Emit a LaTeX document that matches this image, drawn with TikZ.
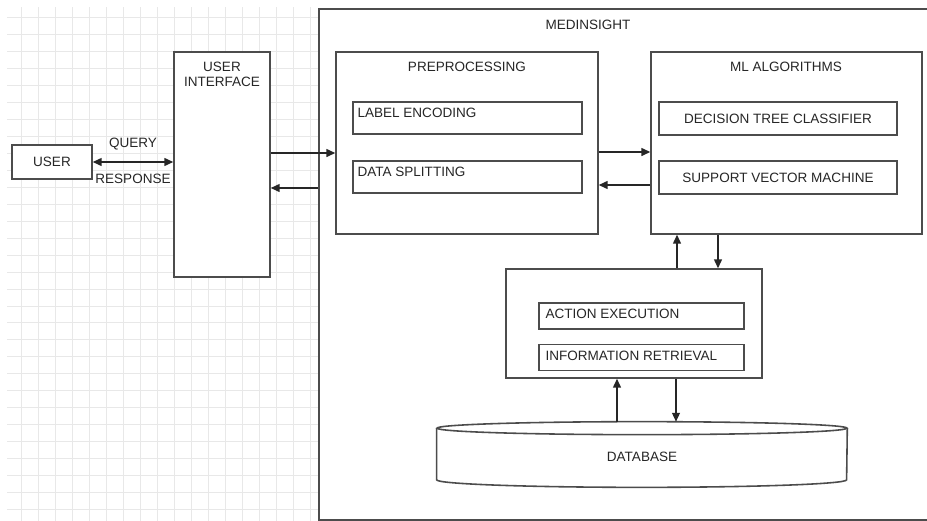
\documentclass[tikz,border=0pt]{standalone}
\usepackage{fontspec}
\setmainfont{Liberation Sans}
\usetikzlibrary{calc, arrows.meta}

\begin{document}
\begin{tikzpicture}[x=0.02cm, y=-0.02cm,
    >={Triangle[length=5pt,width=4.5pt]},
    box/.style={draw=black!70, fill=white, line width=0.9pt, inner sep=0pt},
    arr/.style={line width=0.7pt, black!85},
    txt/.style={font=\fontsize{7.7}{8.2}\selectfont, text=black!85},
    gridline/.style={black!9, line width=0.5pt}]
    \clip (0,0) rectangle (927,521);
    \draw[gridline, xshift=0.09cm, step=0.34cm] (2.5,7) grid (313.5,521);

    \node[box, minimum width=12.32cm, minimum height=10.22cm] (medinsight) at (627,264.5) {};
    \node[txt] (medtitle) at (588,25) {MEDINSIGHT};

    \node[box, txt, minimum width=1.6cm, minimum height=0.68cm] (user) at (52,162) {USER};
    \node[box, minimum width=1.92cm, minimum height=4.5cm] (ui) at (222,164.5) {};
    \node[txt, align=center] (uititle) at (222,74.5) {USER\\INTERFACE};

    \node[box, minimum width=5.24cm, minimum height=3.64cm] (preproc) at (467,143) {};
    \node[txt] (pretitle) at (467,67) {PREPROCESSING};
    \node[box, minimum width=4.58cm, minimum height=0.64cm,
        label={[txt, anchor=north west, inner sep=0pt, xshift=0.1cm, yshift=-0.12cm]north west:LABEL ENCODING}] (labelenc) at (467.5,118) {};
    \node[box, minimum width=4.58cm, minimum height=0.64cm,
        label={[txt, anchor=north west, inner sep=0pt, xshift=0.1cm, yshift=-0.12cm]north west:DATA SPLITTING}] (datasplit) at (467.5,177) {};

    \node[box, minimum width=5.42cm, minimum height=3.64cm] (ml) at (786.5,143) {};
    \node[txt] (mltitle) at (786,67) {ML ALGORITHMS};
    \node[box, txt, minimum width=4.76cm, minimum height=0.66cm] (dtree) at (778,118.5) {DECISION TREE CLASSIFIER};
    \node[box, txt, minimum width=4.76cm, minimum height=0.66cm] (svm) at (778,177.5) {SUPPORT VECTOR MACHINE};

    \node[box, minimum width=5.12cm, minimum height=2.18cm] (exec) at (634,323.5) {};
    \node[box, minimum width=4.1cm, minimum height=0.52cm,
        label={[txt, anchor=west, inner sep=0pt, xshift=0.14cm, yshift=0.04cm]west:ACTION EXECUTION}] (action) at (641.5,316) {};
    \node[box, minimum width=4.1cm, minimum height=0.52cm,
        label={[txt, anchor=west, inner sep=0pt, xshift=0.14cm, yshift=0.03cm]west:INFORMATION RETRIEVAL}] (inforet) at (641.5,357.5) {};

    \node[txt, minimum width=8.2cm, minimum height=1.3cm, inner sep=0pt] (db) at (642,454.5) {};
    \draw[box] ($(db.north)+(0,6.5)$) ellipse [x radius=4.1cm, y radius=0.13cm];
    \draw[box, fill=none] ($(db.north west)+(0,6.5)$) -- ($(db.south west)+(0,-7.5)$)
        arc [start angle=180, end angle=360, x radius=4.1cm, y radius=0.15cm] -- ($(db.north east)+(0,6.5)$);
    \node[txt] (dbtitle) at (642,457) {DATABASE};

    \coordinate (r1) at (0,153);
    \coordinate (r2) at (0,188);
    \coordinate (r3) at (0,152);
    \coordinate (r4) at (0,185);
    \coordinate (c1) at (677,0);
    \coordinate (c2) at (718,0);
    \coordinate (c3) at (617,0);
    \coordinate (c4) at (676,0);

    \draw[arr, <->] (user.east) -- node[txt, above=3pt] {QUERY} node[txt, below=3pt] {RESPONSE} (ui.west |- user.east);
    \draw[arr, ->] (ui.east |- r1) -- (preproc.west |- r1);
    \draw[arr, ->] (medinsight.west |- r2) -- (ui.east |- r2);
    \draw[arr, ->] (preproc.east |- r3) -- (ml.west |- r3);
    \draw[arr, ->] (ml.west |- r4) -- (preproc.east |- r4);
    \draw[arr, ->] (c1 |- exec.north) -- (c1 |- ml.south);
    \draw[arr, ->] (c2 |- ml.south) -- (c2 |- exec.north);
    \draw[arr, ->] (c3 |- db.north) -- (c3 |- exec.south);
    \draw[arr, ->] (c4 |- exec.south) -- (c4 |- db.north);
\end{tikzpicture}
\end{document}
